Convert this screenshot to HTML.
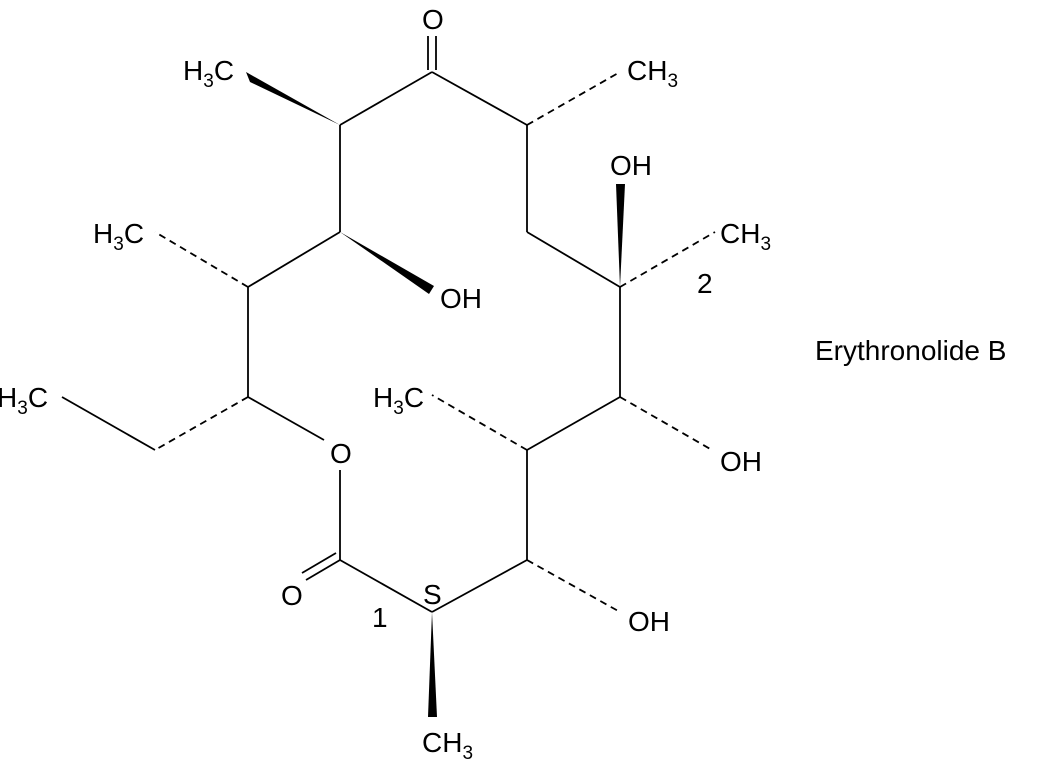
<!DOCTYPE html>
<html><head><meta charset="utf-8"><style>
html,body{margin:0;padding:0;background:#fff;}
svg text{font-family:"Liberation Sans",sans-serif;font-size:28px;fill:#000;}
</style></head><body>
<svg width="1037" height="762" viewBox="0 0 1037 762" xmlns="http://www.w3.org/2000/svg">
<g stroke="#000" stroke-width="1.8" fill="none">
<line x1="340" y1="125" x2="432" y2="72"/>
<line x1="432" y1="72" x2="527" y2="125"/>
<line x1="527" y1="125" x2="527" y2="232"/>
<line x1="527" y1="232" x2="620" y2="287"/>
<line x1="620" y1="287" x2="620" y2="397"/>
<line x1="620" y1="397" x2="527" y2="450"/>
<line x1="527" y1="450" x2="527" y2="560"/>
<line x1="527" y1="560" x2="432" y2="612"/>
<line x1="432" y1="612" x2="340" y2="560"/>
<line x1="340" y1="560" x2="340" y2="470"/>
<line x1="324" y1="440" x2="248" y2="397"/>
<line x1="248" y1="397" x2="248" y2="287"/>
<line x1="248" y1="287" x2="340" y2="232"/>
<line x1="340" y1="232" x2="340" y2="125"/>
<line x1="155" y1="450" x2="62" y2="397"/>
<line x1="340" y1="560" x2="306" y2="580"/>
<line x1="336" y1="553" x2="302" y2="573"/>
<g stroke-dasharray="7,5">
<line x1="527" y1="125" x2="620" y2="72"/>
<line x1="620" y1="287" x2="715" y2="232"/>
<line x1="620" y1="397" x2="712" y2="450"/>
<line x1="527" y1="450" x2="432" y2="395"/>
<line x1="527" y1="560" x2="620" y2="612"/>
<line x1="248" y1="397" x2="155" y2="450"/>
<line x1="248" y1="287" x2="155" y2="232"/>
</g>
</g>
<line x1="428" y1="36" x2="428" y2="70" stroke="#000" stroke-width="1.8"/>
<line x1="436" y1="36" x2="436" y2="70" stroke="#000" stroke-width="1.8"/>
<polygon points="340,125 246,72 250,82" fill="#000"/>
<polygon points="340,232 434,286 429,294" fill="#000"/>
<polygon points="620,287 616,184 625,184" fill="#000"/>
<polygon points="432,612 428,717 437,717" fill="#000"/>
<text x="422" y="29">O</text>
<text x="183" y="80">H<tspan font-size="19" dy="7">3</tspan><tspan dy="-7">C</tspan></text>
<text x="627" y="80">CH<tspan font-size="19" dy="7">3</tspan></text>
<text x="610" y="175">OH</text>
<text x="720" y="243">CH<tspan font-size="19" dy="7">3</tspan></text>
<text x="697" y="293">2</text>
<text x="93" y="243">H<tspan font-size="19" dy="7">3</tspan><tspan dy="-7">C</tspan></text>
<text x="440" y="308">OH</text>
<text x="815" y="360">Erythronolide B</text>
<text x="-3" y="407">H<tspan font-size="19" dy="7">3</tspan><tspan dy="-7">C</tspan></text>
<text x="373" y="407">H<tspan font-size="19" dy="7">3</tspan><tspan dy="-7">C</tspan></text>
<text x="330" y="463">O</text>
<text x="720" y="471">OH</text>
<text x="281" y="605">O</text>
<text x="423" y="604">S</text>
<text x="372" y="627">1</text>
<text x="628" y="631">OH</text>
<text x="422" y="752">CH<tspan font-size="19" dy="7">3</tspan></text>
</svg>
</body></html>
